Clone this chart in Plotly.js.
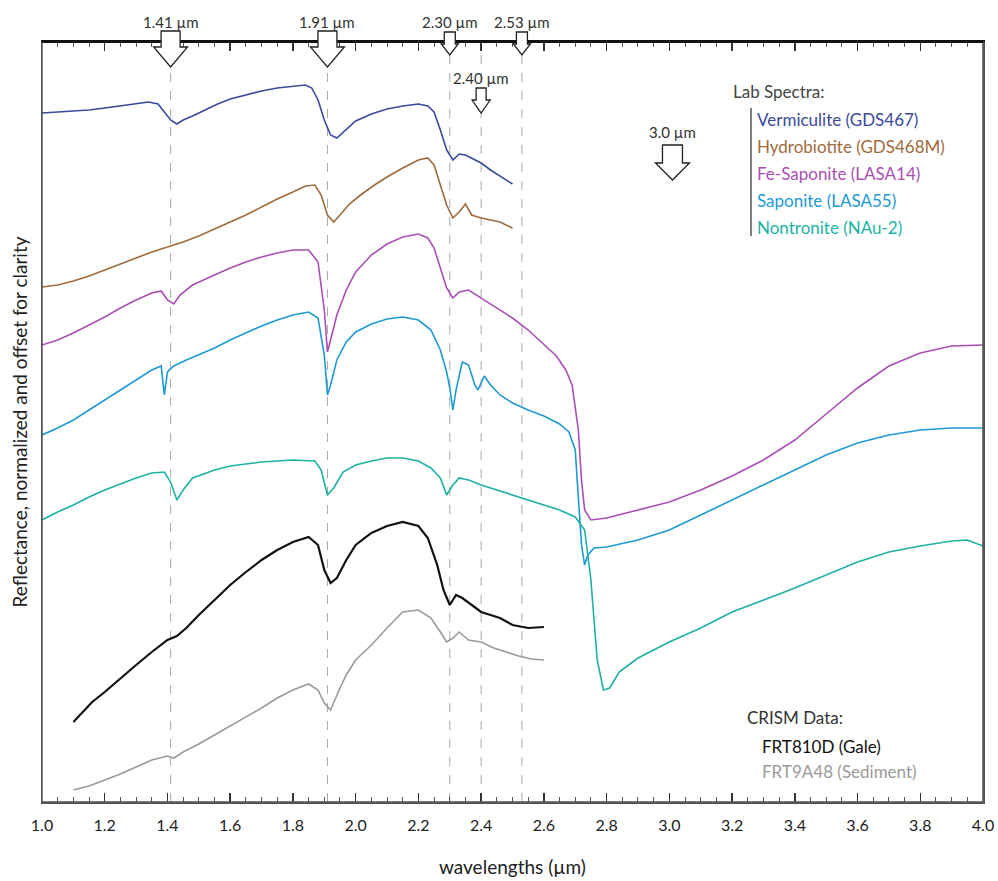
<!DOCTYPE html>
<html>
<head>
<meta charset="utf-8">
<script src="https://cdn.plot.ly/plotly-3.0.1.min.js"></script>
<style>
  html, body { margin: 0; padding: 0; background: #ffffff; }
  #chart { width: 998px; height: 881px; }
</style>
</head>
<body>
<div id="chart"></div>
<script>
// Laboratory and CRISM reflectance spectra, normalized and offset for clarity.

const vermX = [1.00,1.05,1.10,1.15,1.20,1.25,1.30,1.34,1.37,1.39,1.41,1.43,1.45,1.48,1.52,1.56,1.60,1.65,1.70,1.75,1.80,1.84,1.86,1.88,1.90,1.92,1.94,1.96,1.98,2.00,2.05,2.10,2.15,2.20,2.23,2.25,2.27,2.29,2.31,2.33,2.35,2.37,2.40,2.43,2.46,2.50];
const vermY = [6.89,6.90,6.91,6.92,6.94,6.96,6.98,7.00,6.98,6.90,6.82,6.78,6.82,6.86,6.92,6.98,7.03,7.07,7.11,7.14,7.16,7.17,7.14,7.02,6.82,6.67,6.64,6.70,6.76,6.81,6.88,6.93,6.96,6.98,6.96,6.90,6.72,6.52,6.42,6.48,6.47,6.44,6.39,6.32,6.26,6.18];

const hydroX = [1.00,1.05,1.10,1.15,1.20,1.25,1.30,1.35,1.40,1.45,1.50,1.55,1.60,1.65,1.70,1.75,1.80,1.84,1.87,1.89,1.91,1.93,1.95,1.98,2.02,2.06,2.10,2.15,2.20,2.23,2.25,2.27,2.29,2.31,2.33,2.35,2.37,2.40,2.43,2.46,2.50];
const hydroY = [5.15,5.17,5.21,5.26,5.32,5.38,5.44,5.50,5.55,5.60,5.66,5.73,5.80,5.87,5.95,6.03,6.10,6.16,6.17,6.07,5.87,5.80,5.87,5.98,6.08,6.17,6.25,6.34,6.42,6.44,6.37,6.17,5.97,5.84,5.90,5.98,5.87,5.84,5.82,5.80,5.74];

const feSapX = [1.00,1.05,1.10,1.15,1.20,1.25,1.30,1.35,1.38,1.40,1.42,1.44,1.48,1.55,1.60,1.65,1.70,1.75,1.80,1.85,1.88,1.90,1.91,1.92,1.94,1.97,2.00,2.05,2.10,2.15,2.20,2.23,2.25,2.27,2.29,2.31,2.33,2.36,2.40,2.45,2.50,2.55,2.60,2.64,2.67,2.69,2.71,2.72,2.73,2.75,2.80,2.90,3.00,3.10,3.20,3.30,3.40,3.50,3.60,3.70,3.80,3.90,4.00];
const feSapY = [4.57,4.62,4.69,4.77,4.85,4.94,5.02,5.09,5.11,5.02,4.98,5.07,5.17,5.27,5.34,5.40,5.45,5.49,5.52,5.52,5.40,4.92,4.50,4.62,4.87,5.12,5.30,5.47,5.58,5.65,5.68,5.64,5.54,5.34,5.14,5.04,5.10,5.12,5.04,4.94,4.84,4.72,4.58,4.46,4.32,4.17,3.72,3.22,2.92,2.82,2.84,2.92,3.00,3.12,3.26,3.42,3.62,3.88,4.14,4.36,4.49,4.56,4.57];

const sapX = [1.00,1.05,1.10,1.15,1.20,1.25,1.30,1.35,1.38,1.39,1.40,1.42,1.46,1.50,1.55,1.60,1.65,1.70,1.75,1.80,1.85,1.88,1.90,1.91,1.92,1.94,1.97,2.00,2.05,2.10,2.15,2.20,2.24,2.27,2.29,2.30,2.31,2.32,2.34,2.36,2.38,2.39,2.41,2.43,2.46,2.50,2.55,2.60,2.65,2.68,2.70,2.71,2.72,2.73,2.74,2.76,2.80,2.90,3.00,3.10,3.20,3.30,3.40,3.50,3.60,3.70,3.80,3.90,4.00];
const sapY = [3.67,3.74,3.82,3.92,4.02,4.12,4.22,4.32,4.36,4.07,4.30,4.36,4.42,4.47,4.54,4.62,4.69,4.76,4.82,4.87,4.90,4.84,4.47,4.07,4.17,4.42,4.60,4.70,4.78,4.83,4.85,4.82,4.72,4.52,4.30,4.14,3.92,4.12,4.40,4.37,4.17,4.12,4.26,4.17,4.07,3.99,3.92,3.86,3.78,3.70,3.52,3.02,2.57,2.37,2.47,2.54,2.55,2.62,2.72,2.87,3.02,3.17,3.32,3.47,3.59,3.67,3.72,3.74,3.74];

const nontX = [1.00,1.05,1.10,1.15,1.20,1.25,1.30,1.35,1.39,1.41,1.43,1.45,1.48,1.55,1.60,1.70,1.80,1.87,1.89,1.91,1.93,1.96,2.00,2.05,2.10,2.15,2.20,2.24,2.27,2.29,2.31,2.33,2.36,2.40,2.45,2.50,2.55,2.60,2.65,2.70,2.73,2.75,2.77,2.79,2.81,2.84,2.90,3.00,3.10,3.20,3.30,3.40,3.50,3.60,3.70,3.80,3.90,3.95,4.00];
const nontY = [2.82,2.90,2.97,3.05,3.12,3.18,3.24,3.29,3.30,3.20,3.02,3.12,3.24,3.32,3.36,3.40,3.42,3.41,3.32,3.07,3.14,3.30,3.37,3.41,3.44,3.44,3.41,3.34,3.24,3.07,3.17,3.24,3.22,3.17,3.12,3.07,3.02,2.97,2.92,2.85,2.72,2.22,1.42,1.12,1.14,1.30,1.44,1.60,1.74,1.90,2.02,2.14,2.27,2.40,2.50,2.56,2.61,2.62,2.56];

const galeX = [1.10,1.13,1.16,1.20,1.25,1.30,1.35,1.40,1.43,1.46,1.50,1.55,1.60,1.65,1.70,1.75,1.80,1.85,1.88,1.90,1.92,1.94,1.97,2.00,2.05,2.10,2.15,2.20,2.23,2.26,2.28,2.30,2.32,2.34,2.37,2.40,2.43,2.46,2.50,2.55,2.60];
const galeY = [0.80,0.90,1.00,1.10,1.24,1.37,1.50,1.62,1.66,1.74,1.87,2.02,2.17,2.30,2.42,2.52,2.60,2.65,2.57,2.32,2.19,2.24,2.42,2.57,2.69,2.76,2.80,2.76,2.64,2.37,2.12,1.97,2.07,2.04,1.97,1.90,1.87,1.84,1.77,1.74,1.75];

const sedX = [1.10,1.15,1.20,1.25,1.30,1.35,1.40,1.42,1.45,1.50,1.55,1.60,1.65,1.70,1.75,1.80,1.85,1.88,1.90,1.92,1.95,1.97,2.00,2.05,2.10,2.15,2.20,2.24,2.27,2.29,2.31,2.33,2.36,2.40,2.44,2.48,2.52,2.56,2.60];
const sedY = [0.12,0.16,0.22,0.28,0.35,0.42,0.46,0.44,0.50,0.58,0.67,0.76,0.85,0.94,1.04,1.12,1.18,1.12,0.99,0.92,1.14,1.27,1.42,1.57,1.74,1.90,1.92,1.84,1.70,1.60,1.64,1.70,1.62,1.60,1.54,1.50,1.46,1.43,1.42];

// Series names and colours
const labNames = ['Vermiculite (GDS467)', 'Hydrobiotite (GDS468M)', 'Fe-Saponite (LASA14)', 'Saponite (LASA55)', 'Nontronite (NAu-2)'];
const labColors = ['#3b4a9c', '#a06b3c', '#a94fb4', '#1d9ad4', '#1db2a4'];
const crismNames = ['FRT810D (Gale)', 'FRT9A48 (Sediment)'];
const crismColors = ['#111111', '#9a9a9a'];

// Absorption band positions (µm) marked on the plot
const bandPos = [1.41, 1.91, 2.30, 2.40, 2.53];
const bandLabels = ['1.41 µm', '1.91 µm', '2.30 µm', '2.40 µm', '2.53 µm'];
const extraBand = 3.01, extraBandLabel = '3.0 µm';

const FONT = 'Lato, "Open Sans", sans-serif';

const series = [
  [vermX, vermY, labColors[0], 1.6, labNames[0]],
  [hydroX, hydroY, labColors[1], 1.6, labNames[1]],
  [feSapX, feSapY, labColors[2], 1.6, labNames[2]],
  [sapX, sapY, labColors[3], 1.6, labNames[3]],
  [nontX, nontY, labColors[4], 1.6, labNames[4]],
  [galeX, galeY, crismColors[0], 2.2, crismNames[0]],
  [sedX, sedY, crismColors[1], 1.6, crismNames[1]]
];

const traces = series.map(s => ({
  x: s[0], y: s[1], type: 'scatter', mode: 'lines', name: s[4],
  line: { color: s[2], width: s[3] }, hoverinfo: 'x+y+name'
}));
// carrier for the top tick axis
traces.push({ x: [], y: [], xaxis: 'x2', yaxis: 'y', type: 'scatter', mode: 'lines', showlegend: false, hoverinfo: 'skip' });

// Plot geometry (pixels) used to size the band arrows
const W = 998, H = 881;
const M = { l: 42, r: 15, t: 42, b: 79 };
const plotW = W - M.l - M.r, plotH = H - M.t - M.b;
const xPerPx = 3.0 / plotW;
const pyToPaper = py => (H - M.b - py) / plotH;
const px2x = px => (px - M.l) / plotW;

// Down-pointing block arrow: shaft half-width, head half-width (px), top / shoulder / tip (px from top)
function arrowPath(xc, shaftHalf, headHalf, top, shoulder, tip) {
  const s = shaftHalf * xPerPx, h = headHalf * xPerPx;
  const yt = pyToPaper(top), ys = pyToPaper(shoulder), yp = pyToPaper(tip);
  return `M${xc - s},${yt} L${xc + s},${yt} L${xc + s},${ys} L${xc + h},${ys} L${xc},${yp} L${xc - h},${ys} L${xc - s},${ys} Z`;
}

const shapes = [];
bandPos.forEach(b => {
  shapes.push({ type: 'line', xref: 'x', yref: 'paper', x0: b, x1: b, y0: 0, y1: 1,
    line: { color: '#a8a8a8', width: 1, dash: 'dash' }, layer: 'below' });
});

// plot frame
shapes.push({ type: 'rect', xref: 'paper', yref: 'paper', x0: 0, x1: 1, y0: 0, y1: 1,
  line: { color: '#555555', width: 1.5 }, fillcolor: 'rgba(0,0,0,0)', layer: 'above' });
shapes.push({ type: 'line', xref: 'paper', yref: 'paper', x0: 0, x1: 1, y0: 1, y1: 1,
  line: { color: '#111111', width: 2 }, layer: 'above' });

const arrows = [
  [bandPos[0], 9.5, 17, 31, 47, 67],
  [bandPos[1], 9.5, 17, 31, 47, 67],
  [bandPos[2], 5.5, 8.5, 32, 44, 55],
  [bandPos[4], 5.5, 8.5, 32, 44, 55],
  [bandPos[3], 5, 9, 88, 100, 113],
  [extraBand, 10, 17, 145, 163, 180]
];
arrows.forEach(a => {
  shapes.push({ type: 'path', xref: 'x', yref: 'paper',
    path: arrowPath(a[0], a[1], a[2], a[3], a[4], a[5]),
    fillcolor: '#ffffff', line: { color: '#222222', width: 1.3 }, layer: 'above' });
});

// bracket bar beside the lab-spectra key
shapes.push({ type: 'line', xref: 'paper', yref: 'paper',
  x0: px2x(751), x1: px2x(751), y0: pyToPaper(108), y1: pyToPaper(236),
  line: { color: '#555555', width: 1.5 } });

const annotations = [];
const labelY = [22, 22, 22, 78, 22];
bandPos.forEach((b, i) => {
  annotations.push({ x: b, y: pyToPaper(labelY[i]), xref: 'x', yref: 'paper', text: bandLabels[i],
    showarrow: false, font: { family: FONT, size: 15, color: '#333333' }, xanchor: 'center', yanchor: 'middle' });
});
annotations.push({ x: extraBand, y: pyToPaper(132), xref: 'x', yref: 'paper', text: extraBandLabel,
  showarrow: false, font: { family: FONT, size: 15, color: '#333333' }, xanchor: 'center', yanchor: 'middle' });

annotations.push({ x: px2x(731), y: pyToPaper(92), xref: 'paper', yref: 'paper', text: 'Lab Spectra:',
  showarrow: false, font: { family: FONT, size: 17, color: '#444444' }, xanchor: 'left', yanchor: 'middle' });
labNames.forEach((n, i) => {
  annotations.push({ x: px2x(755), y: pyToPaper(120 + 26.8 * i), xref: 'paper', yref: 'paper', text: n,
    showarrow: false, font: { family: FONT, size: 17, color: labColors[i] }, xanchor: 'left', yanchor: 'middle' });
});
annotations.push({ x: px2x(745), y: pyToPaper(717), xref: 'paper', yref: 'paper', text: 'CRISM Data:',
  showarrow: false, font: { family: FONT, size: 17, color: '#333333' }, xanchor: 'left', yanchor: 'middle' });
crismNames.forEach((n, i) => {
  annotations.push({ x: px2x(760), y: pyToPaper(746 + 25 * i), xref: 'paper', yref: 'paper', text: n,
    showarrow: false, font: { family: FONT, size: 17, color: i === 0 ? '#111111' : '#9a9a9a' }, xanchor: 'left', yanchor: 'middle' });
});

// x ticks: labelled every 0.2, short ticks every 0.05
const tickStyle = {
  tickmode: 'linear', tick0: 1.0, dtick: 0.2,
  ticks: 'inside', ticklen: 9, tickwidth: 1.5, tickcolor: '#333333',
  minor: { tickmode: 'linear', tick0: 1.0, dtick: 0.05, ticks: 'inside', ticklen: 5, tickwidth: 1, tickcolor: '#555555' },
  showgrid: false, zeroline: false
};

const layout = {
  width: W, height: H,
  margin: M,
  paper_bgcolor: '#ffffff', plot_bgcolor: '#ffffff',
  showlegend: false,
  font: { family: FONT, size: 16, color: '#222222' },
  xaxis: Object.assign({}, tickStyle, {
    range: [1.0, 4.0], tickformat: '.1f',
    showline: true, linecolor: '#555555', linewidth: 1.5,
    ticklabelstandoff: 8,
    tickfont: { family: FONT, size: 16, color: '#222222' },
    title: { text: 'wavelengths (µm)', font: { family: FONT, size: 19, color: '#222222' }, standoff: 28 }
  }),
  xaxis2: Object.assign({}, tickStyle, {
    range: [1.0, 4.0], overlaying: 'x', side: 'top',
    showline: true, linecolor: '#111111', linewidth: 2, showticklabels: false
  }),
  yaxis: {
    range: [0, 7.6], showticklabels: false, ticks: '',
    showline: true, linecolor: '#555555', linewidth: 1.5, mirror: true,
    showgrid: false, zeroline: false,
    title: { text: 'Reflectance, normalized and offset for clarity', font: { family: FONT, size: 19, color: '#222222' }, standoff: 8 }
  },
  shapes: shapes,
  annotations: annotations
};

Plotly.newPlot('chart', traces, layout, { displayModeBar: false, staticPlot: true });
</script>
</body>
</html>
